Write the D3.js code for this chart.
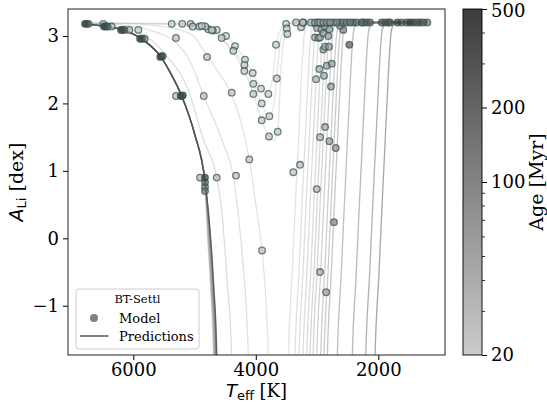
<!DOCTYPE html>
<html>
<head>
<meta charset="utf-8">
<script src="https://cdn.jsdelivr.net/npm/d3@7"></script>
<style>
  body { margin: 0; background: #fff; }
  svg text { font-family: "DejaVu Serif", serif; fill: #000; }
  .sans { font-family: "DejaVu Sans", sans-serif; }
</style>
</head>
<body>
<svg id="chart" width="547" height="416"></svg>
<script>
// ---- tick labels
const xTicks = [6000, 4000, 2000];
const yTicks = [-1, 0, 1, 2, 3];
const ageTicks = [20, 100, 200, 500];
const ageMinorTicks = [30, 40, 50, 60, 70, 80, 90, 300, 400];

// ---- prediction curves (Teff [K], A_Li [dex])
const hotBranch = [[6790,3.18],[6600,3.16],[6450,3.14],[6170,3.09],[5870,2.96],[5550,2.69],[5380,2.43],[5210,2.11],[5000,1.55],[4830,0.85]];
const coolEnd = [[1200,3.2]];

const young20 = [[6790,3.19],[5400,3.19],[4900,3.15],[4640,3.09],[4490,3.0],[4340,2.86],[4176,2.65],[4050,2.45],[3915,2.22],[3840,2.13],[3770,2.2],[3710,2.5],[3670,2.86],[3600,3.08],[3520,3.17],[3350,3.2]];
const young22 = [[6790,3.19],[5300,3.18],[4830,3.14],[4556,2.97],[4367,2.78],[4187,2.57],[4040,2.29],[3903,2.0],[3795,1.8],[3720,1.92],[3660,2.37],[3600,2.9],[3530,3.12],[3440,3.19],[3300,3.2]];
const young23 = [[6790,3.19],[5200,3.17],[4780,3.1],[4520,2.92],[4330,2.7],[4187,2.48],[4040,2.14],[3903,1.75],[3784,1.51],[3700,1.45],[3642,1.58],[3610,2.1],[3570,2.75],[3510,3.05],[3430,3.18],[3300,3.2]];

const left25 = [[6790,3.19],[6300,3.19],[5500,3.14],[5050,3.02],[4800,2.72],[4600,2.45],[4405,2.15],[4250,1.75],[4106,1.17],[3985,0.41],[3898,-0.18],[3830,-1.0],[3795,-1.74],[3760,-3.5]];
const left28 = [[6790,3.19],[6400,3.18],[5800,3.1],[5300,2.9],[5050,2.58],[4850,2.11],[4551,1.45],[4355,0.85],[4241,-0.05],[4122,-1.74],[4090,-3.5]];
const left32 = [[6790,3.19],[6600,3.18],[6150,3.12],[5800,3.0],[5450,2.7],[5102,2.2],[4850,1.45],[4638,0.9],[4556,0.41],[4470,-0.6],[4393,-1.74],[4360,-3.5]];

const tail35 = [[4800,0.25],[4740,-0.7],[4690,-1.74],[4660,-3.5]];
const tail40 = [[4795,0.25],[4735,-0.7],[4685,-1.74],[4655,-3.5]];
const tail45 = [[4790,0.25],[4728,-0.7],[4678,-1.74],[4648,-3.5]];
const tail50 = [[4785,0.25],[4722,-0.7],[4672,-1.74],[4642,-3.5]];
const tail60 = [[4780,0.25],[4716,-0.7],[4666,-1.74],[4636,-3.5]];
const tail70 = [[4775,0.25],[4711,-0.7],[4661,-1.74],[4631,-3.5]];
const tail80 = [[4772,0.25],[4706,-0.7],[4656,-1.74],[4626,-3.5]];
const tail100 = [[4768,0.25],[4701,-0.7],[4651,-1.74],[4621,-3.5]];
const tail150 = [[4765,0.25],[4696,-0.7],[4646,-1.74],[4616,-3.5]];
const tail200 = [[4762,0.25],[4692,-0.7],[4642,-1.74],[4612,-3.5]];
const tail300 = [[4760,0.25],[4688,-0.7],[4638,-1.74],[4608,-3.5]];
const tail500 = [[4758,0.25],[4685,-0.7],[4635,-1.74],[4605,-3.5]];

const rise25 = [[3509,-3.5],[3469,-1.74],[3404,-0.5],[3354,0.5],[3301,1.5],[3256,2.35],[3229,2.8],[3207,3.05],[3179,3.15],[3139,3.19],[3039,3.2]];
const rise28 = [[3400,-3.5],[3360,-1.74],[3295,-0.5],[3245,0.5],[3192,1.5],[3147,2.35],[3120,2.8],[3098,3.05],[3070,3.15],[3030,3.19],[2930,3.2]];
const rise32 = [[3334,-3.5],[3294,-1.74],[3229,-0.5],[3179,0.5],[3126,1.5],[3081,2.35],[3054,2.8],[3032,3.05],[3004,3.15],[2964,3.19],[2864,3.2]];
const rise35 = [[3269,-3.5],[3229,-1.74],[3164,-0.5],[3114,0.5],[3061,1.5],[3016,2.35],[2989,2.8],[2967,3.05],[2939,3.15],[2899,3.19],[2799,3.2]];
const rise40 = [[3208,-3.5],[3168,-1.74],[3103,-0.5],[3053,0.5],[3000,1.5],[2955,2.35],[2928,2.8],[2906,3.05],[2878,3.15],[2838,3.19],[2738,3.2]];
const rise45 = [[3154,-3.5],[3114,-1.74],[3049,-0.5],[2999,0.5],[2946,1.5],[2901,2.35],[2874,2.8],[2852,3.05],[2824,3.15],[2784,3.19],[2684,3.2]];
const rise50 = [[3105,-3.5],[3065,-1.74],[3000,-0.5],[2950,0.5],[2897,1.5],[2852,2.35],[2825,2.8],[2803,3.05],[2775,3.15],[2735,3.19],[2635,3.2]];
const rise60 = [[3045,-3.5],[3005,-1.74],[2940,-0.5],[2890,0.5],[2837,1.5],[2792,2.35],[2765,2.8],[2743,3.05],[2715,3.15],[2675,3.19],[2575,3.2]];
const rise70 = [[2980,-3.5],[2940,-1.74],[2875,-0.5],[2825,0.5],[2772,1.5],[2727,2.35],[2700,2.8],[2678,3.05],[2650,3.15],[2610,3.19],[2510,3.2]];
const rise80 = [[2926,-3.5],[2886,-1.74],[2821,-0.5],[2771,0.5],[2718,1.5],[2673,2.35],[2646,2.8],[2624,3.05],[2596,3.15],[2556,3.19],[2456,3.2]];
const rise100 = [[2872,-3.5],[2832,-1.74],[2767,-0.5],[2717,0.5],[2664,1.5],[2619,2.35],[2592,2.8],[2570,3.05],[2542,3.15],[2502,3.19],[2402,3.2]];
const rise150 = [[2709,-3.5],[2669,-1.74],[2604,-0.5],[2554,0.5],[2501,1.5],[2456,2.35],[2429,2.8],[2407,3.05],[2379,3.15],[2339,3.19],[2239,3.2]];
const rise200 = [[2464,-3.5],[2424,-1.74],[2359,-0.5],[2309,0.5],[2256,1.5],[2211,2.35],[2184,2.8],[2162,3.05],[2134,3.15],[2094,3.19],[1994,3.2]];
const rise300 = [[2245,-3.5],[2205,-1.74],[2140,-0.5],[2090,0.5],[2037,1.5],[1992,2.35],[1965,2.8],[1943,3.05],[1915,3.15],[1875,3.19],[1775,3.2]];
const rise500 = [[2093,-3.5],[2053,-1.74],[1988,-0.5],[1938,0.5],[1885,1.5],[1840,2.35],[1813,2.8],[1791,3.05],[1763,3.15],[1723,3.19],[1623,3.2]];

const curves = [
  {age: 20, pts: young20.concat(coolEnd)},
  {age: 22, pts: young22.concat(coolEnd)},
  {age: 23, pts: young23.concat(coolEnd)},
  {age: 25, pts: left25.concat(rise25, coolEnd)},
  {age: 28, pts: left28.concat(rise28, coolEnd)},
  {age: 32, pts: left32.concat(rise32, coolEnd)},
  {age: 35, pts: hotBranch.concat(tail35, rise35, coolEnd)},
  {age: 40, pts: hotBranch.concat(tail40, rise40, coolEnd)},
  {age: 45, pts: hotBranch.concat(tail45, rise45, coolEnd)},
  {age: 50, pts: hotBranch.concat(tail50, rise50, coolEnd)},
  {age: 60, pts: hotBranch.concat(tail60, rise60, coolEnd)},
  {age: 70, pts: hotBranch.concat(tail70, rise70, coolEnd)},
  {age: 80, pts: hotBranch.concat(tail80, rise80, coolEnd)},
  {age: 100, pts: hotBranch.concat(tail100, rise100, coolEnd)},
  {age: 150, pts: hotBranch.concat(tail150, rise150, coolEnd)},
  {age: 200, pts: hotBranch.concat(tail200, rise200, coolEnd)},
  {age: 300, pts: hotBranch.concat(tail300, rise300, coolEnd)},
  {age: 500, pts: hotBranch.concat(tail500, rise500, coolEnd)}
];

// ---- BT-Settl model points [Teff, A_Li, age]
const hotPoints = [
  [6790,3.18,500],[6760,3.18,200],[6730,3.18,100],[6490,3.18,25],
  [6480,3.14,500],[6450,3.14,200],[6420,3.14,100],[6353,3.14,28],
  [6200,3.09,500],[6173,3.09,200],[6145,3.09,100],[6065,3.09,30],[5918,3.09,25],
  [5890,2.96,500],[5860,2.96,200],[5815,2.96,100],[5303,2.97,28],
  [5560,2.69,500],[5540,2.70,200],[5520,2.70,100],
  [5225,2.11,500],[5205,2.11,200],[5190,2.12,100],[5303,2.11,32],
  [4829,0.90,500],[4829,0.83,200],[4829,0.76,100],[4829,0.70,150],[4911,0.90,35],[4638,0.90,32]
];
const dipPoints = [
  [5373,3.18,20],[5200,3.18,22],[5063,3.18,23],[5030,3.14,25],[4922,3.14,20],[4824,3.14,22],
  [4720,3.09,23],[4638,3.09,20],[4883,3.15,22],[4775,3.10,20],[4703,3.08,22],
  [4556,2.97,22],[4486,3.0,20],[4339,2.85,20],[4367,2.78,22],[4796,2.69,25],
  [4176,2.65,20],[4187,2.57,22],[4187,2.48,23],[4050,2.45,20],[4040,2.29,22],[4040,2.14,23],
  [3915,2.22,20],[3903,2.0,22],[3903,1.75,23],[3795,2.14,20],[3779,1.81,22],[3784,1.51,23],
  [3642,1.58,23],[3658,2.37,22],[3670,2.87,20],[4393,2.16,25],[4850,2.11,28],[4106,1.17,25],
  [4323,0.93,28],[3898,-0.18,25],[3506,3.18,20],[3495,3.11,22],[3485,3.03,23]
];
const coolPoints = [
  [3343,3.2,25],[3261,3.13,28],[3224,3.2,30],[3387,0.98,25],[3278,1.09,28],
  [3033,3.19,35],[3033,2.98,40],[2979,2.97,40],[2951,2.98,45],[2897,3.04,50],[2816,3.0,60],
  [2869,2.84,50],[2897,2.80,45],[2804,2.84,60],[2963,2.51,40],[3016,2.36,35],[2886,2.41,45],
  [2842,2.56,50],[2760,2.59,70],[2772,2.25,60],[2951,1.50,35],[2869,1.65,45],[2799,1.44,60],
  [2695,1.34,80],[3005,0.73,32],[2724,0.24,100],[2951,-0.5,45],[2853,-0.8,60],
  [2473,2.87,300],[2571,3.09,100],[2625,3.15,100],
  [3000,3.12,40],[2930,3.1,45],[2870,3.14,50],[2800,3.1,60]
];
const plateauPoints = [
  [3234,3.2,30],[3100,3.2,35],[3033,3.2,40],[2984,3.2,45],[2951,3.2,50],[2920,3.18,35],
  [2897,3.2,60],[2842,3.2,70],[2788,3.2,80],[2734,3.2,60],[2679,3.2,100],[2625,3.2,80],
  [2571,3.2,100],[2515,3.2,120],[2461,3.2,150],[2407,3.2,100],[2352,3.2,150],[2270,3.2,200],
  [2244,3.2,150],[2189,3.2,200],[2135,3.2,250],[1944,3.2,300],[1890,3.2,250],[1836,3.2,200],
  [1808,3.2,300],[1689,3.2,500],[1617,3.2,250],[1535,3.2,300],[1481,3.2,500],[1428,3.2,200],
  [1372,3.2,300],[1318,3.2,200],[1264,3.2,250],[1199,3.2,150]
];

// ---- layout
const svg = d3.select("#chart");
const plot = {left: 68, top: 9, right: 445, bottom: 355};
const cbar = {left: 463, width: 19};

const x = d3.scaleLinear().domain([7066, 911]).range([plot.left, plot.right]);
const y = d3.scaleLinear().domain([-1.73, 3.4]).range([plot.bottom, plot.top]);
const ageScale = d3.scaleLog().domain([20, 500]).range([0, 1]);
const greys = d3.interpolateRgb("#cbcbcb", "#3c3c3c");
const cmap = a => greys(ageScale(a));

svg.append("defs").append("clipPath").attr("id", "clip")
  .append("rect")
  .attr("x", plot.left).attr("y", plot.top)
  .attr("width", plot.right - plot.left).attr("height", plot.bottom - plot.top);

const g = svg.append("g").attr("clip-path", "url(#clip)");

// prediction lines, young first so old ones sit on top
const line = d3.line()
  .x(d => x(d[0]))
  .y(d => y(d[1]))
  .curve(d3.curveMonotoneX);

g.selectAll("path.pred")
  .data(curves)
  .enter()
  .append("path")
  .attr("class", "pred")
  .attr("d", d => line(d.pts))
  .attr("fill", "none")
  .attr("stroke", d => cmap(d.age))
  .attr("stroke-width", 1.3)
  .attr("stroke-opacity", 0.45);

// model points
const allPoints = hotPoints.concat(dipPoints, coolPoints, plateauPoints)
  .sort((a, b) => a[2] - b[2]);

g.selectAll("circle.model")
  .data(allPoints)
  .enter()
  .append("circle")
  .attr("class", "model")
  .attr("cx", d => x(d[0]))
  .attr("cy", d => y(d[1]))
  .attr("r", 3.3)
  .attr("fill", d => cmap(d[2]))
  .attr("fill-opacity", 0.7)
  .attr("stroke", "#2f4f4f")
  .attr("stroke-opacity", 0.7)
  .attr("stroke-width", 1.3);

// axes
const xAxis = svg.append("g")
  .attr("transform", `translate(0,${plot.bottom})`)
  .call(d3.axisBottom(x).tickValues(xTicks).tickSize(5).tickPadding(3).tickFormat(d3.format("d")));
const yAxis = svg.append("g")
  .attr("transform", `translate(${plot.left},0)`)
  .call(d3.axisLeft(y).tickValues(yTicks).tickSize(5).tickPadding(4).tickFormat(d3.format("d")));
[xAxis, yAxis].forEach(a => {
  a.select(".domain").remove();
  a.selectAll("text").style("font-family", "DejaVu Serif").style("font-size", "18px").attr("fill", "#000");
  a.selectAll("line").attr("stroke", "#000").attr("stroke-width", 1);
});

// frame
svg.append("rect")
  .attr("x", plot.left).attr("y", plot.top)
  .attr("width", plot.right - plot.left).attr("height", plot.bottom - plot.top)
  .attr("fill", "none").attr("stroke", "#222").attr("stroke-width", 1);

// axis labels
const xl = svg.append("text")
  .attr("x", (plot.left + plot.right) / 2).attr("y", 397)
  .attr("text-anchor", "middle").style("font-size", "18px");
xl.append("tspan").attr("class", "sans").style("font-style", "italic").text("T");
xl.append("tspan").attr("class", "sans").attr("dy", 3).style("font-size", "13px").text("eff");
xl.append("tspan").attr("dy", -3).text(" [K]");

const yl = svg.append("text")
  .attr("transform", `translate(23,${(plot.top + plot.bottom) / 2}) rotate(-90)`)
  .attr("text-anchor", "middle").style("font-size", "19px");
yl.append("tspan").attr("class", "sans").style("font-style", "italic").text("A");
yl.append("tspan").attr("class", "sans").attr("dy", 3).style("font-size", "13px").text("Li");
yl.append("tspan").attr("dy", -3).text(" [dex]");

// colorbar
const c = d3.scaleLog().domain([20, 500]).range([plot.bottom, plot.top]);
const grad = svg.select("defs").append("linearGradient")
  .attr("id", "agegrad").attr("x1", 0).attr("y1", 1).attr("x2", 0).attr("y2", 0);
grad.append("stop").attr("offset", "0%").attr("stop-color", cmap(20));
grad.append("stop").attr("offset", "100%").attr("stop-color", cmap(500));

svg.append("rect")
  .attr("x", cbar.left).attr("y", plot.top)
  .attr("width", cbar.width).attr("height", plot.bottom - plot.top)
  .attr("fill", "url(#agegrad)")
  .attr("stroke", "#000").attr("stroke-width", 0.9);

const cAxis = svg.append("g")
  .attr("transform", `translate(${cbar.left + cbar.width},0)`)
  .call(d3.axisRight(c).tickValues(ageTicks).tickSize(5).tickPadding(4).tickFormat(d3.format("d")));
cAxis.select(".domain").remove();
cAxis.selectAll("text").style("font-family", "DejaVu Serif").style("font-size", "18px").attr("fill", "#000");
cAxis.selectAll("line").attr("stroke", "#000");
cAxis.selectAll(".tick").filter(d => d === 500).select("text").attr("dy", "0.42em");

svg.append("g")
  .selectAll("line")
  .data(ageMinorTicks)
  .enter()
  .append("line")
  .attr("x1", cbar.left + cbar.width).attr("x2", cbar.left + cbar.width + 3)
  .attr("y1", d => c(d)).attr("y2", d => c(d))
  .attr("stroke", "#000").attr("stroke-width", 0.8);

svg.append("text")
  .attr("transform", `translate(543,${(plot.top + plot.bottom) / 2}) rotate(-90)`)
  .attr("text-anchor", "middle").style("font-size", "19px")
  .text("Age [Myr]");

// legend
const lg = svg.append("g");
lg.append("rect")
  .attr("x", 76).attr("y", 289).attr("width", 123).attr("height", 60)
  .attr("rx", 3).attr("fill", "#fff").attr("fill-opacity", 0.8)
  .attr("stroke", "#ccc").attr("stroke-width", 1);
lg.append("text").attr("x", 137.5).attr("y", 303)
  .attr("text-anchor", "middle").style("font-size", "11.5px").text("BT-Settl");
lg.append("circle").attr("cx", 94).attr("cy", 318).attr("r", 4).attr("fill", "#808080");
lg.append("text").attr("x", 119).attr("y", 322.5).style("font-size", "13px").text("Model");
lg.append("line").attr("x1", 80).attr("x2", 108.5).attr("y1", 336).attr("y2", 336)
  .attr("stroke", "#808080").attr("stroke-width", 2);
lg.append("text").attr("x", 119).attr("y", 341).style("font-size", "13px").text("Predictions");
</script>
</body>
</html>
